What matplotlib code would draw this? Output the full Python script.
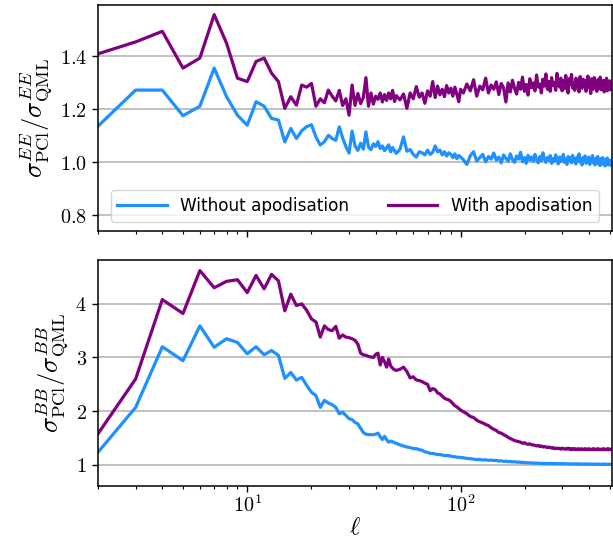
import matplotlib
matplotlib.use("Agg")
import matplotlib.pyplot as plt
from matplotlib.ticker import FuncFormatter, FixedLocator
import numpy as np

plt.rcParams['mathtext.fontset'] = 'cm'

# multipoles: every ell up to 50, then every 2nd to 100, then every 4th to 511
ell = list(range(2, 51)) + list(range(52, 101, 2)) + list(range(103, 512, 4))

# sigma ratio PCl / QML, EE
ee_no_apo = [
    1.137, 1.273, 1.273, 1.176, 1.212, 1.356, 1.248, 1.178, 1.140, 1.229,
    1.212, 1.166, 1.160, 1.077, 1.128, 1.090, 1.119, 1.135, 1.142, 1.095,
    1.065, 1.078, 1.102, 1.090, 1.083, 1.134, 1.092, 1.060, 1.035, 1.118,
    1.062, 1.045, 1.072, 1.050, 1.115, 1.058, 1.048, 1.070, 1.060, 1.078,
    1.052, 1.062, 1.044, 1.055, 1.066, 1.040, 1.056, 1.044, 1.034,
    1.050, 1.096, 1.042, 1.048, 1.030, 1.020, 1.040, 1.036, 1.028, 1.046,
    1.030, 1.038, 1.062, 1.040, 1.046, 1.028, 1.040, 1.024, 1.036, 1.030,
    1.018, 1.032, 1.014, 1.026, 1.020,
    1.010, 0.992, 1.025, 1.040, 1.005, 1.018, 1.030, 1.002, 1.022, 1.012,
    1.035, 1.008, 1.020, 0.998, 1.028, 1.015, 1.004, 1.032, 1.010, 1.000,
    1.024, 1.012, 1.038, 1.002, 1.018, 0.996, 1.026, 1.008, 1.020, 1.004,
    1.030, 1.010, 0.998, 1.022, 1.006, 1.036, 1.012, 1.000, 1.018, 1.008,
    1.026, 0.996, 1.014, 1.004, 1.028, 1.010, 0.994, 1.020, 1.002, 1.016,
    1.030, 1.000, 1.012, 0.992, 1.022, 1.008, 1.018, 0.998, 1.026, 1.004,
    1.012, 0.994, 1.020, 1.006, 1.032, 1.000, 1.014, 0.990, 1.018, 1.004,
    1.024, 0.996, 1.010, 1.000, 1.020, 0.992, 1.014, 1.004, 1.026, 0.998,
    1.008, 0.990, 1.016, 1.002, 1.022, 0.994, 1.010, 0.988, 1.014, 1.000,
    1.018, 0.992, 1.006, 0.986, 1.012, 0.998, 1.016, 0.990, 1.004, 0.994,
    1.008, 0.988, 1.000,
]
ee_apo = [
    1.410, 1.455, 1.495, 1.356, 1.394, 1.558, 1.450, 1.318, 1.305, 1.381,
    1.394, 1.337, 1.305, 1.204, 1.248, 1.216, 1.292, 1.284, 1.298, 1.212,
    1.240, 1.225, 1.273, 1.250, 1.232, 1.272, 1.215, 1.240, 1.178, 1.292,
    1.215, 1.260, 1.222, 1.245, 1.320, 1.212, 1.262, 1.220, 1.250, 1.238,
    1.262, 1.228, 1.256, 1.234, 1.262, 1.240, 1.272, 1.230, 1.252,
    1.236, 1.258, 1.204, 1.262, 1.240, 1.286, 1.246, 1.262, 1.223, 1.270,
    1.250, 1.305, 1.245, 1.288, 1.255, 1.276, 1.248, 1.290, 1.262, 1.280,
    1.250, 1.284, 1.258, 1.229, 1.276,
    1.262, 1.296, 1.270, 1.312, 1.250, 1.288, 1.274, 1.318, 1.262, 1.292,
    1.276, 1.304, 1.256, 1.298, 1.282, 1.228, 1.300, 1.266, 1.310, 1.280,
    1.258, 1.302, 1.276, 1.322, 1.268, 1.294, 1.254, 1.316, 1.282, 1.300,
    1.270, 1.330, 1.284, 1.296, 1.262, 1.314, 1.288, 1.334, 1.276, 1.306,
    1.268, 1.320, 1.290, 1.302, 1.272, 1.336, 1.294, 1.284, 1.318, 1.270,
    1.308, 1.278, 1.328, 1.290, 1.262, 1.316, 1.296, 1.332, 1.280, 1.300,
    1.272, 1.318, 1.286, 1.306, 1.266, 1.324, 1.294, 1.280, 1.314, 1.288,
    1.310, 1.268, 1.298, 1.326, 1.282, 1.304, 1.260, 1.316, 1.290, 1.276,
    1.320, 1.286, 1.302, 1.268, 1.312, 1.278, 1.296, 1.322, 1.274, 1.300,
    1.284, 1.310, 1.266, 1.304, 1.288, 1.318, 1.270, 1.296, 1.280, 1.308,
    1.274, 1.298, 1.286,
]

# sigma ratio PCl / QML, BB
bb_no_apo = [
    1.235, 2.07, 3.20, 2.94, 3.59, 3.19, 3.35, 3.28, 3.07, 3.20,
    3.05, 3.13, 3.04, 2.61, 2.72, 2.58, 2.63, 2.48, 2.35, 2.29,
    2.07, 2.20, 2.15, 2.12, 2.07, 1.95, 1.98, 1.92, 1.86, 1.84,
    1.79, 1.76, 1.68, 1.60, 1.57, 1.56, 1.56, 1.56, 1.57, 1.59,
    1.52, 1.47, 1.53, 1.47, 1.42, 1.44, 1.43, 1.41, 1.40,
    1.37, 1.35, 1.33, 1.32, 1.30, 1.30, 1.28, 1.27, 1.24, 1.23,
    1.21, 1.21, 1.20, 1.19, 1.19, 1.18, 1.17, 1.17, 1.17, 1.16,
    1.15, 1.15, 1.14, 1.14, 1.135,
    1.130, 1.118, 1.112, 1.104, 1.096, 1.098, 1.088, 1.092, 1.082, 1.086,
    1.078, 1.080, 1.070, 1.074, 1.062, 1.066, 1.058, 1.060, 1.052, 1.056,
    1.048, 1.050, 1.042, 1.046, 1.038, 1.040, 1.034, 1.038, 1.030, 1.034,
    1.028, 1.032, 1.024, 1.028, 1.022, 1.026, 1.020, 1.024, 1.018, 1.022,
    1.022, 1.026, 1.020, 1.024, 1.018, 1.022, 1.016, 1.022, 1.018, 1.020,
    1.016, 1.020, 1.016, 1.018, 1.012, 1.018, 1.014, 1.016, 1.010, 1.016,
    1.014, 1.018, 1.012, 1.016, 1.010, 1.016, 1.012, 1.014, 1.008, 1.014,
    1.010, 1.016, 1.010, 1.014, 1.008, 1.014, 1.010, 1.012, 1.006, 1.012,
    1.008, 1.014, 1.008, 1.012, 1.006, 1.012, 1.008, 1.010, 1.004, 1.010,
    1.006, 1.012, 1.006, 1.010, 1.004, 1.010, 1.006, 1.008, 1.004, 1.010,
    1.006, 1.008, 1.004,
]
bb_apo = [
    1.58, 2.60, 4.08, 3.82, 4.62, 4.30, 4.42, 4.45, 4.21, 4.53,
    4.28, 4.55, 4.43, 3.87, 4.18, 3.97, 4.00, 3.88, 3.72, 3.66,
    3.38, 3.59, 3.52, 3.50, 3.58, 3.36, 3.42, 3.38, 3.37, 3.35,
    3.32, 3.25, 3.08, 3.05, 3.04, 3.02, 3.01, 3.00, 3.06, 3.08,
    2.86, 3.00, 2.92, 2.82, 2.97, 2.84, 2.80, 2.77, 2.76,
    2.78, 2.82, 2.74, 2.62, 2.64, 2.58, 2.57, 2.55, 2.52, 2.50,
    2.38, 2.42, 2.40, 2.34, 2.32, 2.28, 2.24, 2.22, 2.21, 2.18,
    2.14, 2.10, 2.08, 2.05, 2.02,
    1.99, 1.95, 1.90, 1.88, 1.83, 1.80, 1.78, 1.75, 1.73, 1.69,
    1.66, 1.64, 1.60, 1.59, 1.56, 1.54, 1.51, 1.49, 1.47, 1.45,
    1.44, 1.43, 1.42, 1.40, 1.41, 1.39, 1.38, 1.39, 1.37, 1.37,
    1.36, 1.35, 1.36, 1.34, 1.35, 1.33, 1.34, 1.33, 1.32, 1.33,
    1.32, 1.31, 1.32, 1.30, 1.31, 1.30, 1.31, 1.30, 1.29, 1.31,
    1.30, 1.29, 1.30, 1.29, 1.31, 1.29, 1.30, 1.28, 1.30, 1.29,
    1.30, 1.28, 1.29, 1.30, 1.28, 1.29, 1.30, 1.28, 1.29, 1.28,
    1.30, 1.28, 1.29, 1.28, 1.30, 1.29, 1.28, 1.29, 1.28, 1.30,
    1.28, 1.29, 1.28, 1.29, 1.30, 1.28, 1.29, 1.28, 1.29, 1.28,
    1.29, 1.30, 1.28, 1.29, 1.28, 1.29, 1.28, 1.30, 1.28, 1.29,
    1.28, 1.29, 1.29,
]

labels = ["Without apodisation", "With apodisation"]
c_no = "#1e90ff"
c_apo = "#800080"

fig, (ax1, ax2) = plt.subplots(2, 1, sharex=True, figsize=(6.13, 5.39), dpi=100)
fig.subplots_adjust(left=0.160, right=0.998, top=0.991, bottom=0.098, hspace=0.127)

ax1.plot(ell, ee_no_apo, color=c_no, lw=2.3, label=labels[0])
ax1.plot(ell, ee_apo, color=c_apo, lw=2.3, label=labels[1])
ax2.plot(ell, bb_no_apo, color=c_no, lw=2.3)
ax2.plot(ell, bb_apo, color=c_apo, lw=2.3)

ax2.set_xscale('log')
ax2.set_xlim(2, 511)
ax1.set_ylim(0.74, 1.595)
ax2.set_ylim(0.6, 4.82)

ax1.set_yticks([0.8, 1.0, 1.2, 1.4])
ax2.set_yticks([1, 2, 3, 4])
ax1.yaxis.set_major_formatter(FuncFormatter(lambda v, p: r'$%.1f$' % v))
ax2.yaxis.set_major_formatter(FuncFormatter(lambda v, p: r'$%d$' % v))
ax2.xaxis.set_major_locator(FixedLocator([10, 100]))
ax2.xaxis.set_major_formatter(FuncFormatter(lambda v, p: r'$10^{%d}$' % round(np.log10(v))))

for ax in (ax1, ax2):
    ax.grid(axis='y', color='#b0b0b0', lw=1.1)
    ax.set_axisbelow(True)
    ax.tick_params(labelsize=14.5, width=1.0, length=4.5)
    ax.tick_params(which='minor', width=0.8, length=2.5)
    for s in ax.spines.values():
        s.set_linewidth(1.1)
ax2.tick_params(axis='x', pad=1.5)

ax1.set_ylabel(r'$\sigma^{EE}_{\rm PCl}/\sigma^{EE}_{\rm QML}$', fontsize=19, labelpad=4)
ax2.set_ylabel(r'$\sigma^{BB}_{\rm PCl}/\sigma^{BB}_{\rm QML}$', fontsize=19, labelpad=4)
ax2.set_xlabel(r'$\ell$', fontsize=18, labelpad=-1)

ax1.legend(loc='lower center', ncol=2, fontsize=12.2, handlelength=2.9,
           columnspacing=2.3, borderaxespad=0.55)

fig.savefig('out.png', dpi=100)
